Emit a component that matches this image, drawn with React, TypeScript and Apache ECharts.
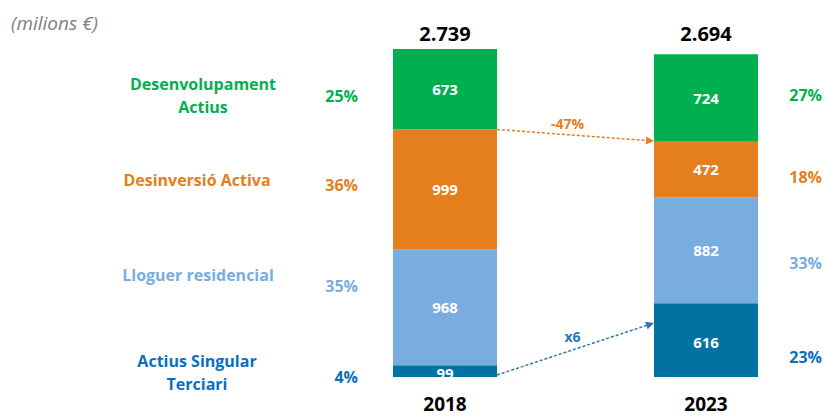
import React, { useEffect, useRef } from 'react';
import * as echarts from 'echarts';

// ---- data ----
const years = ['2018', '2023'];
const totals = ['2.739', '2.694'];
const seriesNames = ['Actius Singular Terciari', 'Lloguer residencial', 'Desinversió Activa', 'Desenvolupament Actius'];
const singular = [99, 616];
const lloguer = [968, 882];
const desinversio = [999, 472];
const desenvolupament = [673, 724];
const leftLabels = ['Actius Singular\nTerciari', 'Lloguer residencial', 'Desinversió Activa', 'Desenvolupament\nActius'];
const sharesLeft = ['4%', '35%', '36%', '25%'];
const sharesRight = ['23%', '33%', '18%', '27%'];
const unitLabel = '(milions €)';
const arrowLabels = ['x6', '-47%'];
// arrow anchors (value on 2018 bar right edge, value on 2023 bar left edge)
const blueArrow = [17, 451];
const orangeArrow = [2066, 1970];

// ---- styles ----
const barColors = ['#0073A2', '#7AADDF', '#E57E1C', '#00B050'];
const textColors = ['#0A70BE', '#7AADDF', '#E57E1C', '#00B050'];
const FONT = '"Open Sans", "Noto Sans", sans-serif';
const BAR_W = 104;
const leftLabelPos = [[197, 372], [198, 275], [197, 180], [203, 95]];
const leftPctPos = [[358, 377], [358, 286], [358, 185], [358, 96]];
const rightPctPos = [[822, 357], [822, 263], [822, 177], [822, 95]];

export default function App() {
  const ref = useRef<HTMLDivElement>(null);
  useEffect(() => {
    if (!ref.current) return;
    const chart = echarts.init(ref.current, null, { renderer: 'svg' });
    const dataSets = [singular, lloguer, desinversio, desenvolupament];
    chart.setOption({
      animation: false,
      grid: { left: 445, right: 118, top: 44, bottom: 39 },
      xAxis: [
        {
          type: 'category',
          data: years,
          boundaryGap: false,
          axisLine: { show: false },
          axisTick: { show: false },
          axisLabel: { margin: 17, fontSize: 19, fontWeight: 'bold', color: '#000', fontFamily: FONT },
        },
        {
          type: 'category',
          data: totals,
          position: 'top',
          boundaryGap: false,
          axisLine: { show: false },
          axisTick: { show: false },
          axisLabel: { margin: 1, fontSize: 20, fontWeight: 'bold', color: '#000', fontFamily: FONT },
        },
      ],
      yAxis: { type: 'value', min: 0, max: 2780, show: false, splitLine: { show: false } },
      series: dataSets.map((d, i) => ({
        type: 'bar',
        name: seriesNames[i],
        stack: 'total',
        data: d,
        barWidth: BAR_W,
        itemStyle: { color: barColors[i] },
        label: {
          show: true,
          position: 'inside',
          color: '#fff',
          fontSize: 15,
          fontWeight: 'bold',
          fontFamily: FONT,
          offset: i === 0 ? [0, 2] : [0, 0],
        },
      })),
    });

    const px = (cat: number, v: number) => chart.convertToPixel({ xAxisIndex: 0, yAxisIndex: 0 }, [cat, v]) as number[];
    const graphics: any[] = [];
    graphics.push({
      type: 'text',
      left: 11,
      top: 13,
      style: { text: unitLabel, font: `italic 19px ${FONT}`, fill: '#7F7F7F' },
    });
    leftLabels.forEach((t, i) => {
      graphics.push({
        type: 'text',
        x: leftLabelPos[i][0],
        y: leftLabelPos[i][1],
        style: { text: t, align: 'center', verticalAlign: 'middle', lineHeight: 23, font: `bold 16px ${FONT}`, fill: textColors[i] },
      });
      graphics.push({
        type: 'text',
        x: leftPctPos[i][0],
        y: leftPctPos[i][1],
        style: { text: sharesLeft[i], align: 'right', verticalAlign: 'middle', font: `bold 16px ${FONT}`, fill: textColors[i] },
      });
      graphics.push({
        type: 'text',
        x: rightPctPos[i][0],
        y: rightPctPos[i][1],
        style: { text: sharesRight[i], align: 'right', verticalAlign: 'middle', font: `bold 16px ${FONT}`, fill: textColors[i] },
      });
    });

    const arrows = [
      { vals: blueArrow, color: '#2E75B6', label: arrowLabels[0], dx: -3 },
      { vals: orangeArrow, color: '#E57E1C', label: arrowLabels[1], dx: -8 },
    ];
    arrows.forEach((a) => {
      const p0 = px(0, a.vals[0]);
      const p1 = px(1, a.vals[1]);
      const x0 = p0[0] + BAR_W / 2;
      const y0 = p0[1];
      const x1 = p1[0] - BAR_W / 2;
      const y1 = p1[1];
      const ang = Math.atan2(y1 - y0, x1 - x0);
      const L = 8, W = 4;
      const bx = x1 - L * Math.cos(ang), by = y1 - L * Math.sin(ang);
      graphics.push({
        type: 'line',
        shape: { x1: x0, y1: y0, x2: bx, y2: by },
        style: { stroke: a.color, lineWidth: 1.5, lineDash: [3, 2] },
      });
      graphics.push({
        type: 'polygon',
        shape: {
          points: [
            [x1, y1],
            [bx - W * Math.sin(ang), by + W * Math.cos(ang)],
            [bx + W * Math.sin(ang), by - W * Math.cos(ang)],
          ],
        },
        style: { fill: a.color },
      });
      graphics.push({
        type: 'text',
        x: (x0 + x1) / 2 + a.dx,
        y: (y0 + y1) / 2 - 12,
        style: { text: a.label, align: 'center', verticalAlign: 'middle', font: `bold 14px ${FONT}`, fill: a.color },
      });
    });
    chart.setOption({ graphic: graphics });

    return () => chart.dispose();
  }, []);
  return <div ref={ref} style={{ position: 'absolute', left: 0, top: 0, width: 824, height: 416 }} />;
}
